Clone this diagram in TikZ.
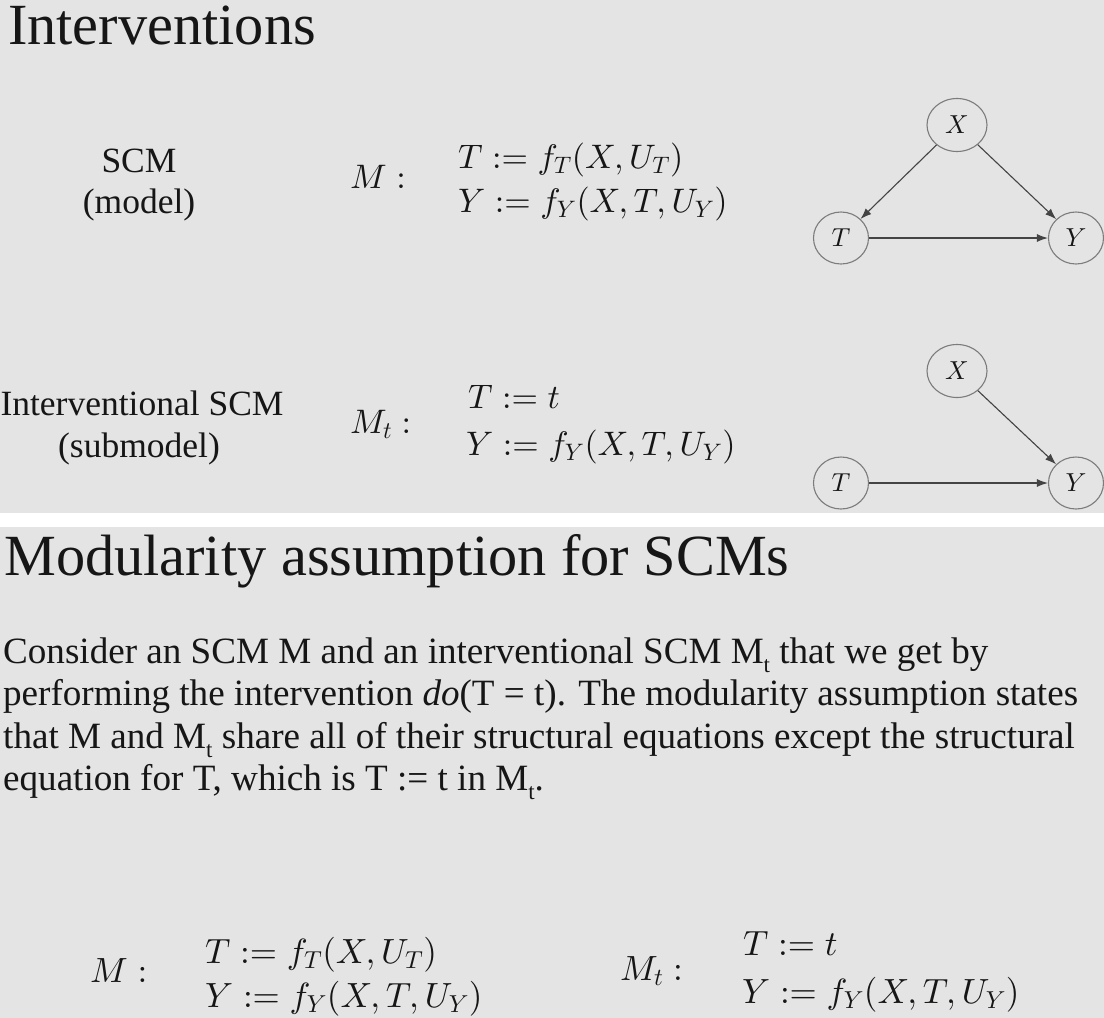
\RequirePackage{fix-cm}
\documentclass[tikz,border=0pt]{standalone}
\usepackage[no-math]{fontspec}
\setmainfont{Liberation Serif}
\usetikzlibrary{arrows.meta,shapes.geometric}
\DeclareFontShape{OML}{cmm}{m}{it}{<->cmmi10}{}
\DeclareFontShape{OT1}{cmr}{m}{n}{<->cmr10}{}
\definecolor{bg}{HTML}{E4E4E4}
\definecolor{nodegray}{HTML}{7C7C7C}
\definecolor{arrgray}{HTML}{444444}
\definecolor{ink}{HTML}{161616}
\newcommand\subt{\raisebox{-0.26em}{\fontsize{23}{23}\selectfont t}}
\begin{document}
\begin{tikzpicture}[x=1pt,y=-1pt,
  txt/.style={inner sep=0pt, anchor=base west, text=ink},
  ctr/.style={inner sep=0pt, anchor=base, text=ink},
  title/.style={txt, font=\fontsize{58.3}{58}\selectfont},
  para/.style={txt, font=\fontsize{37.1}{37}\selectfont},
  lab/.style={ctr, font=\fontsize{35.5}{35}\selectfont},
  eqtop/.style={txt, font=\fontsize{34}{34}\selectfont},
  eqbot/.style={txt, font=\fontsize{35}{35}\selectfont},
  vnode/.style={ellipse, draw=nodegray, line width=1.1pt, minimum width=55, minimum height=52, inner sep=0pt, text=ink, font=\fontsize{26}{26}\selectfont},
  xnode/.style={vnode, minimum width=60, minimum height=53},
  arr/.style={-{Latex[length=11pt,width=8pt]}, draw=arrgray, line width=1.1pt}
]
\useasboundingbox (0,0) rectangle (1104,1018);
\fill[bg] (0,0) rectangle (1104,513);
\fill[white] (0,513) rectangle (1104,527);
\fill[bg] (0,527) rectangle (1104,1018);

% ---- top panel
\node[title] (t1) at (8,44) {Interventions};
\node[lab] (scm) at (139,172) {SCM};
\node[lab] (model) at (139,213) {(model)};
\node[lab] (iscm) at (142,415) {Interventional SCM};
\node[lab] (submodel) at (139,457) {(submodel)};

\node[eqtop] (m1) at (350,188) {$M:$};
\node[eqtop] (e1a) at (458,168) {$T := f_T(X,U_T)$};
\node[eqtop] (e1b) at (458,212) {$Y := f_Y(X,T,U_Y)$};
\node[eqtop] (m2) at (350,433) {$M_t:$};
\node[eqtop] (e2a) at (468,408) {$T := t$};
\node[eqtop] (e2b) at (466,455) {$Y := f_Y(X,T,U_Y)$};

\node[xnode] (X1) at (957,125) {$X$};
\node[vnode] (T1) at (841,238) {$T$};
\node[vnode] (Y1) at (1076,238) {$Y$};
\draw[arr] (X1) -- (T1);
\draw[arr] (X1) -- (Y1);
\draw[arr] (T1) -- (Y1);

\node[xnode] (X2) at (957,371) {$X$};
\node[vnode] (T2) at (841,483) {$T$};
\node[vnode] (Y2) at (1076,483) {$Y$};
\draw[arr] (X2) -- (Y2);
\draw[arr] (T2) -- (Y2);

% ---- bottom panel
\node[title] (t2) at (4,575) {Modularity assumption for SCMs};
\node[para] (p1) at (3,663) {Consider an SCM M and an interventional SCM M\subt{} that we get by};
\node[para] (p2) at (3,705) {performing the intervention \textit{do}(T = t). The modularity assumption states};
\node[para] (p3) at (3,748) {that M and M\subt{} share all of their structural equations except the structural};
\node[para] (p4) at (3,790) {equation for T, which is T := t in M\subt.};

\node[eqbot] (m3) at (90,982) {$M:$};
\node[eqbot] (e3a) at (205,963) {$T := f_T(X,U_T)$};
\node[eqbot] (e3b) at (205,1007) {$Y := f_Y(X,T,U_Y)$};
\node[eqbot] (m4) at (620,980) {$M_t:$};
\node[eqbot] (e4a) at (743,955) {$T := t$};
\node[eqbot] (e4b) at (742,1003) {$Y := f_Y(X,T,U_Y)$};
\end{tikzpicture}
\end{document}
